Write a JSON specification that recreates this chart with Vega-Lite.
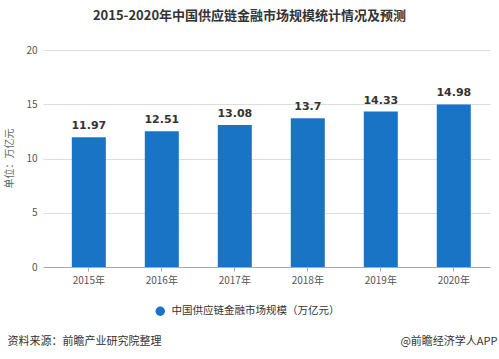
{
  "$schema": "https://vega.github.io/schema/vega-lite/v6.json",
  "autosize": {"type": "none"},
  "width": 447,
  "height": 217,
  "padding": {"left": 43, "top": 50, "right": 9, "bottom": 92},
  "background": "white",
  "config": {
    "view": {"stroke": null},
    "font": "Noto Sans CJK SC"
  },
  "title": {
    "text": "2015-2020年中国供应链金融市场规模统计情况及预测",
    "font": "Noto Sans CJK SC",
    "fontSize": 13,
    "fontWeight": "bold",
    "color": "#333333",
    "anchor": "middle",
    "dx": -17,
    "offset": 22
  },
  "data": {
    "values": [
      {"year": "2015年", "value": 11.97, "label": "11.97", "series": "中国供应链金融市场规模（万亿元）"},
      {"year": "2016年", "value": 12.51, "label": "12.51", "series": "中国供应链金融市场规模（万亿元）"},
      {"year": "2017年", "value": 13.08, "label": "13.08", "series": "中国供应链金融市场规模（万亿元）"},
      {"year": "2018年", "value": 13.7, "label": "13.7", "series": "中国供应链金融市场规模（万亿元）"},
      {"year": "2019年", "value": 14.33, "label": "14.33", "series": "中国供应链金融市场规模（万亿元）"},
      {"year": "2020年", "value": 14.98, "label": "14.98", "series": "中国供应链金融市场规模（万亿元）"}
    ]
  },
  "layer": [
    {
      "mark": {"type": "bar"},
      "encoding": {
        "x": {
          "field": "year", "type": "nominal", "sort": null,
          "scale": {"paddingInner": 0.534, "paddingOuter": 0.329, "align": 0.6},
          "axis": {
            "labelAngle": 0, "labelFontSize": 10, "labelColor": "#555555", "labelPadding": 4,
            "domainColor": "#aaaaaa", "tickColor": "#aaaaaa", "tickSize": 4,
            "title": "资料来源：前瞻产业研究院整理",
            "titleFontSize": 11, "titleFontWeight": "normal", "titleColor": "#333333",
            "titleAnchor": "start", "titleAlign": "left", "titleX": -36, "titleY": 77, "titleBaseline": "alphabetic"
          }
        },
        "y": {
          "field": "value", "type": "quantitative",
          "scale": {"domain": [0, 20]},
          "axis": {
            "values": [0, 5, 10, 15, 20], "domain": false, "ticks": false,
            "labelFontSize": 10, "labelColor": "#555555", "labelPadding": 6,
            "gridColor": "#dddddd",
            "title": "单位：万亿元", "titleFontSize": 10, "titleFontWeight": "normal", "titleColor": "#666666",
            "titleX": -29, "titleY": 108, "titleAnchor": "middle", "titleAlign": "center"
          }
        },
        "color": {
          "field": "series", "type": "nominal",
          "scale": {"range": ["#1a74c6"]},
          "legend": {
            "title": null, "orient": "none", "legendX": 112, "legendY": 256,
            "symbolType": "circle", "symbolSize": 90, "symbolStrokeWidth": 0,
            "labelFontSize": 10.5, "labelColor": "#333333", "labelOffset": 6, "labelLimit": 300
          }
        }
      }
    },
    {
      "mark": {"type": "text", "dy": -6, "fontSize": 11, "fontWeight": "bold", "color": "#333333", "baseline": "bottom", "font": "DejaVu Sans"},
      "encoding": {
        "x": {"field": "year", "type": "nominal", "sort": null},
        "y": {
          "field": "value", "type": "quantitative",
          "axis": {
            "orient": "right", "labels": false, "ticks": false, "domain": false, "grid": false,
            "title": "@前瞻经济学人APP", "titleAngle": 0, "titleFontSize": 11, "titleFontWeight": "normal",
            "titleColor": "#333333", "titleAlign": "right", "titleBaseline": "alphabetic",
            "titleX": 7, "titleY": 294
          }
        },
        "text": {"field": "label"}
      }
    }
  ],
  "resolve": {"axis": {"y": "independent"}}
}
